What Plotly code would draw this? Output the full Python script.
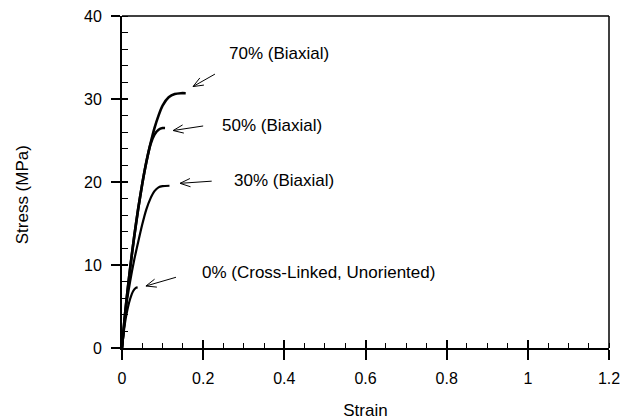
import math
import plotly.graph_objects as go

# Stress-strain data for the biaxially oriented and unoriented films
strain_70 = [0, 0.005, 0.010, 0.020, 0.030, 0.040, 0.050, 0.060, 0.070, 0.080, 0.090, 0.100, 0.115, 0.130, 0.145, 0.157]
stress_70 = [0, 2.8, 5.3, 9.6, 13.4, 16.8, 19.8, 22.4, 24.6, 26.5, 28.0, 29.2, 30.2, 30.6, 30.7, 30.7]

strain_50 = [0, 0.005, 0.010, 0.020, 0.030, 0.040, 0.050, 0.060, 0.070, 0.080, 0.090, 0.100, 0.106]
stress_50 = [0, 2.8, 5.3, 9.6, 13.4, 16.8, 19.8, 22.4, 24.5, 25.7, 26.3, 26.5, 26.5]

strain_30 = [0, 0.005, 0.010, 0.020, 0.030, 0.040, 0.050, 0.060, 0.070, 0.080, 0.090, 0.100, 0.117]
stress_30 = [0, 2.6, 4.9, 8.0, 10.6, 12.8, 14.9, 16.7, 18.0, 18.9, 19.35, 19.5, 19.55]

strain_0 = [0, 0.005, 0.010, 0.020, 0.028, 0.034, 0.0385]
stress_0 = [0, 2.2, 3.8, 5.9, 6.9, 7.25, 7.3]

# Label text, label centre (strain, stress), arrow tail and tip (strain, stress)
labels = ["70% (Biaxial)", "50% (Biaxial)", "30% (Biaxial)", "0% (Cross-Linked, Unoriented)"]
label_x = [0.388, 0.370, 0.398, 0.484]
label_y = [35.5, 26.75, 20.24, 9.07]
arrow_tail_x = [0.229, 0.200, 0.221, 0.133]
arrow_tail_y = [33.0, 26.75, 20.1, 8.52]
arrow_tip_x = [0.175, 0.126, 0.143, 0.059]
arrow_tip_y = [31.5, 26.2, 19.84, 7.47]

W, H = 623, 420
ML, MR, MT, MB = 122, 14, 16, 72
X_RANGE = [0, 1.2]
Y_RANGE = [0, 40]
FONT = "Liberation Sans, Arial, sans-serif"

px_per_x = (W - ML - MR) / (X_RANGE[1] - X_RANGE[0])
px_per_y = (H - MT - MB) / (Y_RANGE[1] - Y_RANGE[0])

fig = go.Figure()

curves = [
    (strain_70, stress_70, 2.6),
    (strain_50, stress_50, 2.6),
    (strain_30, stress_30, 2.2),
    (strain_0, stress_0, 2.2),
]
for xs, ys, w in curves:
    fig.add_trace(go.Scatter(
        x=xs, y=ys, mode="lines",
        line=dict(color="black", width=w, shape="spline", smoothing=0.6),
        showlegend=False, hoverinfo="skip",
    ))

# Empty trace on overlay axes that carry the inner half of the major ticks
fig.add_trace(go.Scatter(x=[0], y=[0], xaxis="x2", yaxis="y2", mode="markers",
                         opacity=0, showlegend=False, hoverinfo="skip"))

# Labels and open-headed arrows
shapes = []
annotations = []
for text, lx, ly, tx, ty, hx, hy in zip(labels, label_x, label_y,
                                         arrow_tail_x, arrow_tail_y,
                                         arrow_tip_x, arrow_tip_y):
    annotations.append(dict(x=lx, y=ly, xref="x", yref="y", text=text,
                            showarrow=False, xanchor="center", yanchor="middle",
                            font=dict(family=FONT, size=17, color="black")))
    # direction tail -> tip in pixel space
    dxp = (hx - tx) * px_per_x
    dyp = -(hy - ty) * px_per_y
    ang = math.atan2(dyp, dxp)
    barb = 11
    spread = math.radians(22)
    path = f"M {tx},{ty} L {hx},{hy}"
    for s in (spread, -spread):
        bx = -barb * math.cos(ang + s)
        by = -barb * math.sin(ang + s)
        path += f" M {hx + bx / px_per_x},{hy - by / px_per_y} L {hx},{hy}"
    shapes.append(dict(type="path", path=path, xref="x", yref="y",
                       line=dict(color="black", width=1)))

# Y-axis title, sitting a little below the middle of the plot
annotations.append(dict(text="Stress (MPa)", textangle=-90, xref="paper", yref="paper",
                        x=-100 / (W - ML - MR), y=0.46, xanchor="center", yanchor="middle",
                        showarrow=False, font=dict(family=FONT, size=17, color="black")))

# Top and right frame lines
shapes.append(dict(type="line", xref="paper", yref="paper", x0=0, x1=1, y0=1, y1=1,
                   line=dict(color="black", width=1.5)))
shapes.append(dict(type="line", xref="paper", yref="paper", x0=1, x1=1, y0=0, y1=1,
                   line=dict(color="black", width=1.5)))

tickfont = dict(family=FONT, size=16, color="black")

fig.update_layout(
    width=W, height=H,
    margin=dict(l=ML, r=MR, t=MT, b=MB, autoexpand=False),
    paper_bgcolor="white", plot_bgcolor="white",
    font=dict(family=FONT, color="black"),
    shapes=shapes,
    annotations=annotations,
    xaxis=dict(
        range=X_RANGE, tickvals=[0, 0.2, 0.4, 0.6, 0.8, 1.0, 1.2],
        ticktext=["0", "0.2", "0.4", "0.6", "0.8", "1", "1.2"],
        ticks="outside", ticklen=10, tickwidth=1.5, tickcolor="black",
        ticklabelstandoff=5, automargin=False,
        minor=dict(dtick=0.05, tick0=0, ticks="inside", ticklen=5, tickwidth=1.3,
                   tickcolor="black", showgrid=False),
        showline=True, linecolor="black", linewidth=2, showgrid=False, zeroline=False,
        tickfont=tickfont,
        title=dict(text="Strain", font=dict(family=FONT, size=17), standoff=18),
    ),
    yaxis=dict(
        range=Y_RANGE, tick0=0, dtick=10,
        ticks="outside", ticklen=9, tickwidth=1.5, tickcolor="black",
        ticklabelstandoff=6, automargin=False,
        minor=dict(dtick=2, tick0=0, ticks="inside", ticklen=6, tickwidth=1.3,
                   tickcolor="black", showgrid=False),
        showline=True, linecolor="black", linewidth=2, showgrid=False, zeroline=False,
        tickfont=tickfont,
    ),
    xaxis2=dict(range=X_RANGE, overlaying="x", anchor="y2", side="bottom",
                tick0=0, dtick=0.2, ticks="inside", ticklen=8, tickwidth=1.5,
                tickcolor="black", showticklabels=False, showline=False,
                showgrid=False, zeroline=False, automargin=False),
    yaxis2=dict(range=Y_RANGE, overlaying="y", anchor="x2", side="left",
                tick0=0, dtick=10, ticks="inside", ticklen=6, tickwidth=1.5,
                tickcolor="black", showticklabels=False, showline=False,
                showgrid=False, zeroline=False, automargin=False),
)

fig.write_html("out.html")
